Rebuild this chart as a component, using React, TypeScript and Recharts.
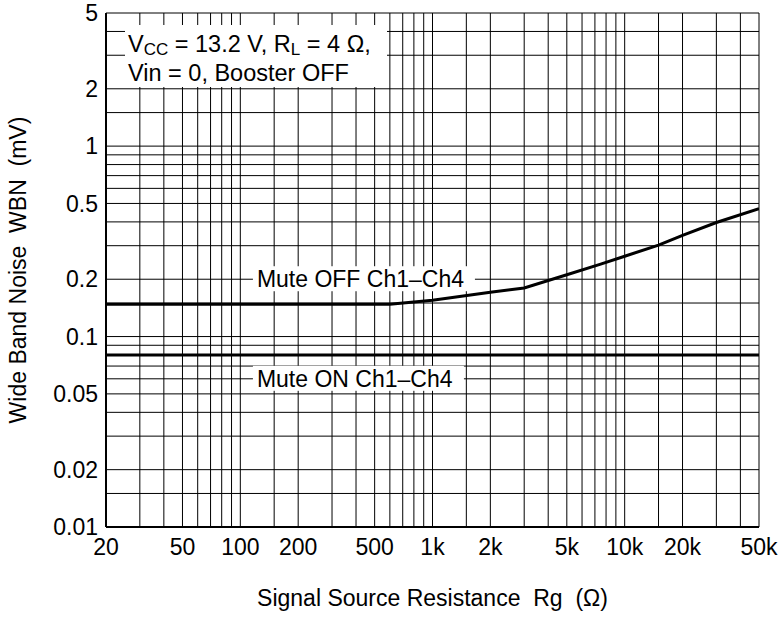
import { LineChart, Line, XAxis, YAxis, CartesianGrid, ReferenceDot } from 'recharts'

const FONT = '"Liberation Sans", Arial, Helvetica, sans-serif'

// grid lines (log-log paper)
const xGrid = [20, 30, 40, 50, 60, 70, 80, 90, 100, 150, 200, 300, 400, 500, 600, 700, 800, 900,
  1000, 1500, 2000, 3000, 4000, 5000, 6000, 7000, 8000, 9000, 10000, 15000, 20000, 30000, 40000, 50000]
const xMajor = [20, 50, 100, 200, 500, 1000, 2000, 5000, 10000, 20000, 50000]
const xMajorText = ['20', '50', '100', '200', '500', '1k', '2k', '5k', '10k', '20k', '50k']

const yGrid = [0.01, 0.015, 0.02, 0.03, 0.04, 0.05, 0.06, 0.07, 0.08, 0.09, 0.1, 0.15, 0.2, 0.3, 0.4,
  0.5, 0.6, 0.7, 0.8, 0.9, 1, 1.5, 2, 3, 4, 5]
const yMajor = [0.01, 0.02, 0.05, 0.1, 0.2, 0.5, 1, 2, 5]
const yMajorText = ['0.01', '0.02', '0.05', '0.1', '0.2', '0.5', '1', '2', '5']

// measured curves
const muteOffRg = [20, 600, 1000, 2000, 3000, 5000, 7500, 10000, 15000, 20000, 30000, 50000]
const muteOffWbn = [0.148, 0.148, 0.155, 0.171, 0.18, 0.211, 0.24, 0.264, 0.302, 0.34, 0.397, 0.47]
const muteOnRg = [20, 50000]
const muteOnWbn = [0.08, 0.08]

const muteOff = muteOffRg.map((x, i) => ({ x, y: muteOffWbn[i] }))
const muteOn = muteOnRg.map((x, i) => ({ x, y: muteOnWbn[i] }))

const near = (a: number, b: number) => Math.abs(a - b) / b < 1e-6
const fmtX = (v: number) => {
  const i = xMajor.findIndex(m => near(v, m))
  return i >= 0 ? xMajorText[i] : ''
}
const fmtY = (v: number) => {
  const i = yMajor.findIndex(m => near(v, m))
  return i >= 0 ? yMajorText[i] : ''
}

function Tag({ cx, cy, text, w }: { cx: number; cy: number; text: string; w: number }) {
  return (
    <g>
      <rect x={cx - 4} y={cy - 13} width={w} height={25} fill="#fff" />
      <text x={cx} y={cy + 8} fontSize={23} fontFamily={FONT} fill="#000">{text}</text>
    </g>
  )
}

export default function App() {
  return (
    <div style={{ position: 'absolute', left: 0, top: 0, width: 781, height: 617, background: '#fff', fontFamily: FONT }}>
      <LineChart width={781} height={617} margin={{ top: 13, right: 22, bottom: 0, left: 0 }}>
        <CartesianGrid stroke="#000" strokeWidth={1} />
        <XAxis
          type="number"
          dataKey="x"
          scale="log"
          domain={[20, 50000]}
          allowDataOverflow
          ticks={xGrid}
          interval={0}
          height={90}
          tickSize={0}
          tickMargin={12}
          tickLine={false}
          axisLine={{ stroke: '#000', strokeWidth: 2 }}
          tick={{ fill: '#000', fontSize: 23, fontFamily: FONT }}
          tickFormatter={fmtX}
          label={{
            content: ({ viewBox }: any) => (
              <text x={viewBox.x + viewBox.width / 2} y={606} textAnchor="middle" fontSize={23} fontFamily={FONT} fill="#000">
                {'Signal Source Resistance\u00A0\u00A0Rg\u00A0\u00A0(\u03A9)'}
              </text>
            ),
          }}
        />
        <YAxis
          type="number"
          dataKey="y"
          scale="log"
          domain={[0.01, 5]}
          allowDataOverflow
          ticks={yGrid}
          interval={0}
          width={106}
          tickSize={0}
          tickMargin={8}
          tickLine={false}
          axisLine={{ stroke: '#000', strokeWidth: 2 }}
          tick={{ fill: '#000', fontSize: 23, fontFamily: FONT }}
          tickFormatter={fmtY}
          label={{
            content: ({ viewBox }: any) => {
              const cy = viewBox.y + viewBox.height / 2
              return (
                <text x={18} y={cy} transform={`rotate(-90 18 ${cy})`} textAnchor="middle" dominantBaseline="central"
                  fontSize={23} fontFamily={FONT} fill="#000">
                  {'Wide Band Noise\u00A0\u00A0WBN\u00A0\u00A0(mV)'}
                </text>
              )
            },
          }}
        />
        <Line data={muteOff} dataKey="y" type="linear" stroke="#000" strokeWidth={3} dot={false} isAnimationActive={false} />
        <Line data={muteOn} dataKey="y" type="linear" stroke="#000" strokeWidth={3} dot={false} isAnimationActive={false} />
        <ReferenceDot x={122} y={0.2} r={0} shape={(p: any) => <Tag cx={p.cx} cy={p.cy} text="Mute OFF Ch1–Ch4" w={222} />} />
        <ReferenceDot x={122} y={0.06} r={0} shape={(p: any) => <Tag cx={p.cx} cy={p.cy} text="Mute ON Ch1–Ch4" w={211} />} />
      </LineChart>
      <div style={{
        position: 'absolute', left: 125, top: 25, width: 262, height: 62, background: '#fff',
        boxSizing: 'border-box', padding: '6px 0 0 3px', fontSize: 23.5, lineHeight: '26px', color: '#000', whiteSpace: 'nowrap',
      }}>
        <div>V<span style={{ fontSize: 17, position: 'relative', top: 3 }}>CC</span> = 13.2 V, R<span style={{ fontSize: 17, position: 'relative', top: 3 }}>L</span> = 4 Ω,</div>
        <div>Vin = 0, Booster OFF</div>
      </div>
    </div>
  )
}
